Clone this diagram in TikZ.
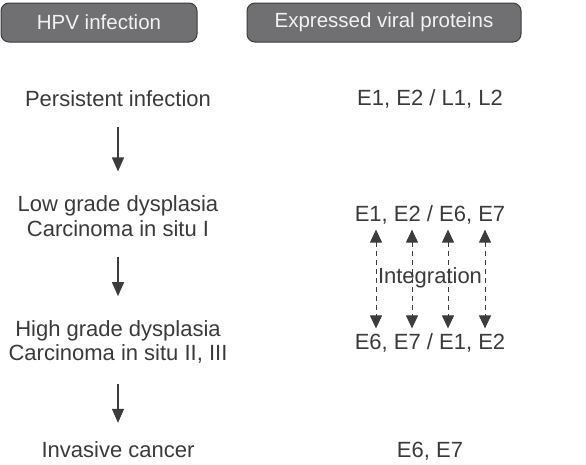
\documentclass[tikz,border=0pt]{standalone}
\usepackage{fontspec}
\setmainfont{Liberation Sans}
\usetikzlibrary{arrows.meta, positioning}
\definecolor{cHead}{RGB}{112,112,114}
\definecolor{cEdge}{RGB}{60,60,62}
\definecolor{cText}{RGB}{58,58,60}
\definecolor{cLight}{RGB}{242,242,242}
\tikzset{
	headbox/.style  ={rectangle, rounded corners=8pt, draw=cEdge, line width=1pt, fill=cHead, text=cLight, font=\fontsize{20.5}{24}\selectfont, inner sep=0pt},
	stage/.style    ={align=center, text=cText, font=\fontsize{22}{24.5}\selectfont, inner sep=2pt},
	prot/.style     ={text=cText, font=\fontsize{22}{24.5}\selectfont, inner sep=2pt},
	flowarrow/.style={-{Triangle[length=14pt, width=12pt]}, line width=1.4pt, cEdge, shorten <=18pt, shorten >=22pt},
	intarrow/.style ={{Triangle[length=13pt, width=12pt]}-{Triangle[length=13pt, width=12pt]}, line width=1pt, cEdge, dash pattern=on 5pt off 4pt},
}
\begin{document}
\begin{tikzpicture}[x=1pt, y=-1pt]
	\useasboundingbox (0,0) rectangle (586,464);
	% column headers
	\node[headbox, minimum width=196pt, minimum height=39pt] (hpv) at (99,22.5) {HPV infection};
	\node[headbox, minimum width=274pt, minimum height=39pt] (expr) at (384,22.5) {Expressed viral proteins};
	% disease stages
	\node[stage] (persist) at (118,99) {Persistent infection};
	\node[stage] (low) at (118,216) {Low grade dysplasia\\Carcinoma in situ I};
	\node[stage] (high) at (118,342) {High grade dysplasia\\Carcinoma in situ II, III};
	\node[stage, anchor=base, inner sep=0pt] (inv) at (118,457) {Invasive cancer};
	\draw[flowarrow] (persist) -- (low);
	\draw[flowarrow] (low) -- (high);
	\draw[flowarrow, shorten >=18pt] (high) -- (inv);
	% expressed proteins
	\node[prot] (p1) at (430,99) {E1, E2 / L1, L2};
	\node[prot] (p2) at (430,215) {E1, E2 / E6, E7};
	\node[prot] (p3) at (430,343) {E6, E7 / E1, E2};
	\node[prot, anchor=base, inner sep=0pt] (p4) at (430,457) {E6, E7};
	\foreach \dx in {-54,-18,18,55}
		\draw[intarrow] ([xshift=\dx pt, yshift=-3pt]p2.south) -- ([xshift=\dx pt, yshift=3pt]p3.north);
	\node[prot] (integ) at (430,278) {Integration};
\end{tikzpicture}
\end{document}
